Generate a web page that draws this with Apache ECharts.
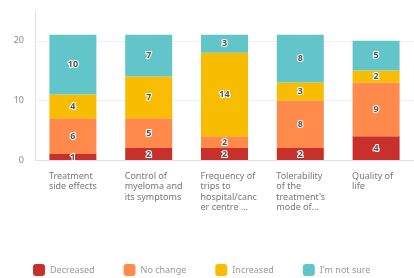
<!DOCTYPE html>
<html>
<head>
<meta charset="utf-8">
<script src="https://cdn.jsdelivr.net/npm/echarts@6/dist/echarts.min.js"></script>
<style>
  html, body { margin: 0; padding: 0; background: #fff; }
  #chart { width: 414px; height: 278px; }
</style>
</head>
<body>
<div id="chart"></div>
<script>
// categories as shown (wrapped and cut like the original)
var categories = [
    "Treatment\nside effects",
    "Control of\nmyeloma and\nits symptoms",
    "Frequency of\ntrips to\nhospital/canc\ner centre ...",
    "Tolerability\nof the\ntreatment's\nmode of...",
    "Quality of\nlife"
];
var seriesNames = ["Decreased", "No change", "Increased", "I'm not sure"];
var decreased = [1, 2, 2, 2, 4];
var noChange = [6, 5, 2, 8, 9];
var increased = [4, 7, 14, 3, 2];
var notSure = [10, 7, 3, 8, 5];
var colors = ["#C8312B", "#FF8A4C", "#F8BC00", "#62C5CA"];

var allData = [decreased, noChange, increased, notSure];

var series = seriesNames.map(function (name, i) {
    return {
        name: name,
        type: 'bar',
        stack: 'total',
        barWidth: 47,
        data: allData[i],
        itemStyle: {color: colors[i]},
        label: {
            show: true,
            position: 'inside',
            fontFamily: 'Noto Sans',
            fontSize: 9,
            fontWeight: 'bold',
            color: '#555',
            textBorderColor: '#fff',
            textBorderWidth: 2
        }
    };
});

var option = {
    animation: false,
    grid: {left: 35, width: 385, top: 11, bottom: 118},
    legend: {
        data: seriesNames,
        left: 28,
        top: 259,
        itemWidth: 12,
        itemHeight: 12,
        itemGap: 29,
        icon: 'roundRect',
        textStyle: {fontFamily: 'Noto Sans', fontSize: 9, color: '#999'}
    },
    xAxis: {
        type: 'category',
        data: categories,
        axisTick: {show: false},
        axisLine: {lineStyle: {color: '#e3e3e3'}},
        axisLabel: {
            interval: 0,
            align: 'left',
            margin: 11,
            padding: [0, 0, 0, -24],
            fontFamily: 'Noto Sans',
            fontSize: 9,
            lineHeight: 10.5,
            color: '#777'
        }
    },
    yAxis: {
        type: 'value',
        min: 0,
        max: 25,
        interval: 10,
        axisLine: {show: true, lineStyle: {color: '#e3e3e3'}},
        axisTick: {show: false},
        splitLine: {showMaxLine: false, lineStyle: {color: '#eeeeee'}},
        axisLabel: {showMaxLabel: false, fontFamily: 'Noto Sans', fontSize: 9, color: '#888', margin: 11}
    },
    series: series
};

var myChart = echarts.init(document.getElementById('chart'));
myChart.setOption(option);
</script>
</body>
</html>
